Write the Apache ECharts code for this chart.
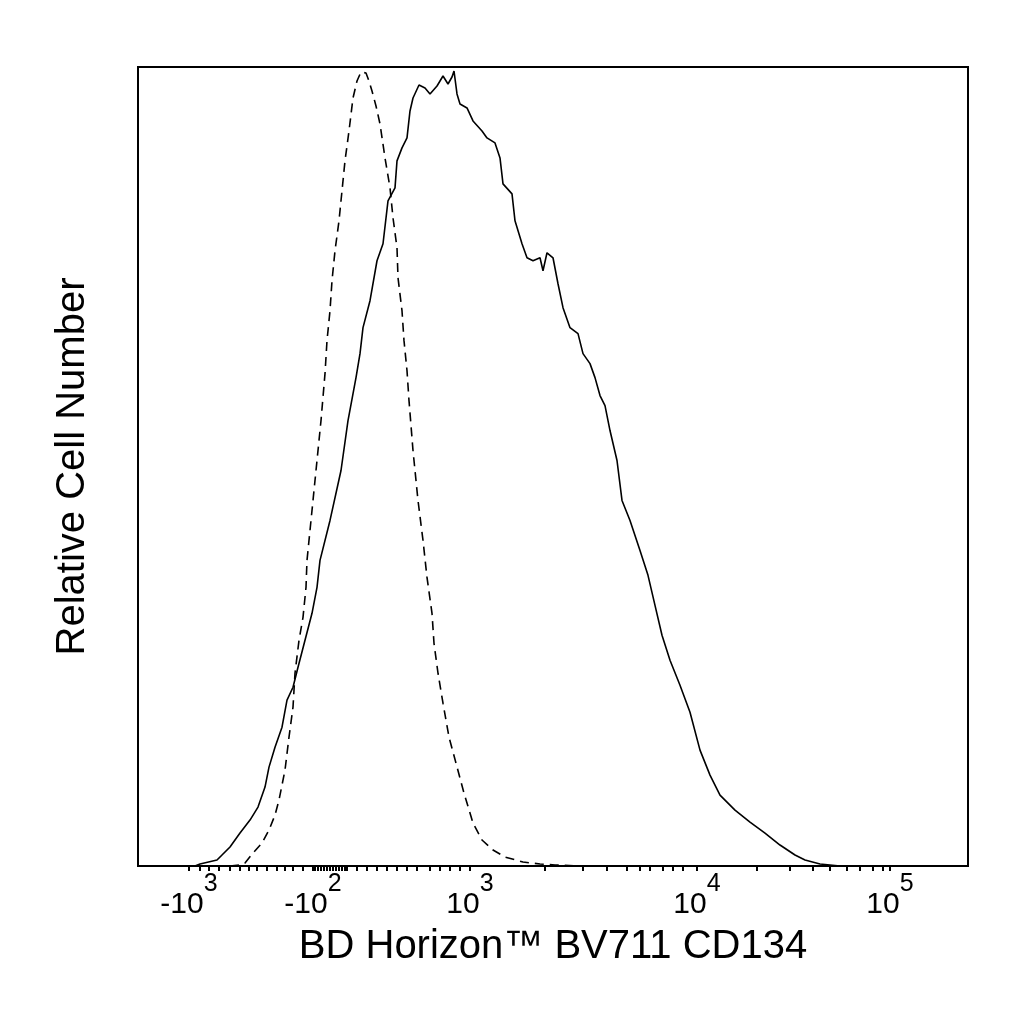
<!DOCTYPE html>
<html>
<head>
<meta charset="utf-8">
<script src="https://cdn.jsdelivr.net/npm/echarts@6/dist/echarts.min.js"></script>
<style>
  html, body { margin: 0; padding: 0; background: #fff; }
  #chart { width: 1024px; height: 1024px; }
</style>
</head>
<body>
<div id="chart"></div>
<script>
// x is the display channel of the biexponential scale (0 = left edge of plot)
// y is the relative cell count (plot top = 800)

// isotype control (dashed)
const isoX = [92, 102, 107, 115, 124, 131, 137, 141, 147, 151, 155, 157, 161, 165, 168, 169, 173, 178, 183, 187,
  189, 192, 194, 197, 201, 204, 207, 211, 215, 219, 223, 225, 228, 231, 234, 238, 242, 247, 252, 255,
  259, 260, 264, 266, 269, 271, 275, 280, 285, 289, 294, 296, 300, 305, 311, 318, 326, 335, 344, 355,
  367, 385, 402, 417, 422, 442];
const isoY = [0, 1, 3, 13, 23, 36, 51, 66, 96, 129, 159, 193, 226, 249, 279, 306, 346, 396, 446, 493,
  526, 556, 586, 616, 646, 676, 706, 736, 769, 786, 795, 796, 794, 786, 776, 761, 743, 709, 679, 649,
  619, 589, 556, 526, 496, 466, 416, 366, 326, 289, 253, 223, 193, 163, 129, 103, 73, 43, 26, 16,
  9, 4, 2, 1, 1, 0];

// CD134 stained (solid)
const cdX = [57, 62, 79, 92, 102, 112, 120, 127, 131, 137, 144, 149, 155, 160, 167, 174, 179, 182, 192, 203,
  210, 218, 222, 225, 232, 239, 245, 250, 257, 259, 264, 269, 272, 275, 281, 287, 292, 299, 305, 310,
  314, 316, 319, 322, 329, 335, 344, 349, 357, 362, 365, 374, 377, 384, 389, 395, 402, 405, 409, 415,
  420, 425, 432, 440, 445, 452, 457, 462, 467, 472, 479, 484, 492, 502, 510, 517, 524, 532, 542, 552,
  562, 572, 582, 597, 612, 627, 642, 657, 667, 682, 702];
const cdY = [0, 2, 6, 19, 33, 46, 59, 79, 99, 119, 139, 166, 179, 199, 226, 253, 279, 306, 346, 396,
  446, 489, 513, 539, 566, 606, 623, 666, 679, 706, 719, 729, 756, 769, 782, 779, 773, 781, 791, 783,
  790, 796, 773, 763, 759, 746, 736, 729, 724, 709, 683, 673, 646, 623, 609, 606, 609, 596, 614, 609,
  583, 559, 539, 533, 513, 503, 489, 471, 461, 436, 406, 366, 346, 316, 291, 261, 231, 206, 181, 154,
  116, 91, 71, 56, 44, 33, 21, 11, 6, 2, 0];

// axis ticks (display channel) and decade labels
const majorTicks = [51, 175, 332, 559, 752];
const majorLabels = [['-10', '3'], ['-10', '2'], ['10', '3'], ['10', '4'], ['10', '5']];
const minorTicks = [62, 71, 81, 92, 102, 111, 119, 129, 139, 147, 155, 165,
  177, 180, 183, 186, 189, 192, 195, 198, 201, 204, 207, 209,
  219, 229, 239, 249, 259, 269, 279, 292, 302, 312, 322,
  407, 445, 469, 489, 502, 512, 525, 535, 545,
  619, 652, 675, 692, 709, 722, 735, 745];

const FONT = '"Liberation Sans", Arial, sans-serif';

function pairs(xs, ys) {
  return xs.map(function (x, i) { return [x, ys[i]]; });
}

const chart = echarts.init(document.getElementById('chart'));
chart.setOption({
  animation: false,
  backgroundColor: '#fff',
  grid: {
    left: 138, right: 56, top: 67, bottom: 158,
    show: true, borderColor: '#000', borderWidth: 2, backgroundColor: 'transparent'
  },
  xAxis: {
    type: 'value',
    min: 0, max: 830,
    name: 'BD Horizon\u2122 BV711 CD134',
    nameLocation: 'middle',
    nameGap: 61,
    nameTextStyle: { fontFamily: FONT, fontSize: 40, color: '#000' },
    axisLine: { show: true, lineStyle: { color: '#000', width: 2 } },
    axisTick: {
      show: true, inside: false, length: 5,
      customValues: majorTicks.concat(minorTicks),
      lineStyle: { color: '#000', width: 2 }
    },
    axisLabel: {
      show: true,
      margin: 6,
      customValues: majorTicks,
      formatter: function (v) {
        const i = majorTicks.indexOf(v);
        if (i < 0) return '';
        return '{b|' + majorLabels[i][0] + '}{s|' + majorLabels[i][1] + '}';
      },
      rich: {
        b: { fontFamily: FONT, fontSize: 30, color: '#000', lineHeight: 48, verticalAlign: 'bottom' },
        s: { fontFamily: FONT, fontSize: 25, color: '#000', lineHeight: 48, verticalAlign: 'top' }
      }
    },
    splitLine: { show: false }
  },
  yAxis: {
    type: 'value',
    min: 0, max: 800,
    name: 'Relative Cell Number',
    nameLocation: 'middle',
    nameGap: 45,
    nameTextStyle: { fontFamily: FONT, fontSize: 40, color: '#000' },
    axisLine: { show: true, lineStyle: { color: '#000', width: 2 } },
    axisTick: { show: false },
    axisLabel: { show: false },
    splitLine: { show: false }
  },
  series: [
    {
      name: 'Isotype',
      type: 'line',
      data: pairs(isoX, isoY),
      symbol: 'none',
      smooth: false,
      lineStyle: { color: '#000', width: 1.6, type: [9, 6] }
    },
    {
      name: 'CD134',
      type: 'line',
      data: pairs(cdX, cdY),
      symbol: 'none',
      smooth: false,
      lineStyle: { color: '#000', width: 1.6 }
    }
  ]
});
</script>
</body>
</html>
